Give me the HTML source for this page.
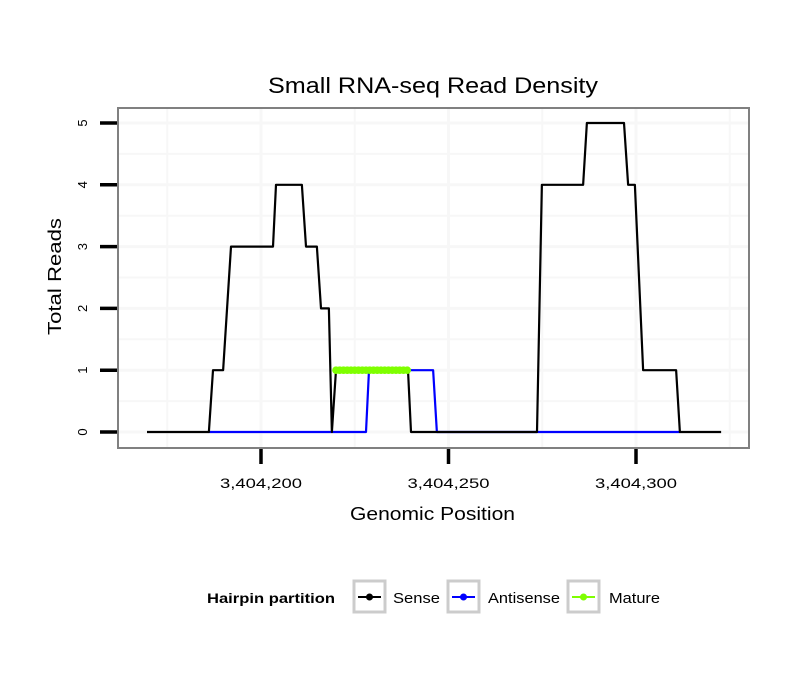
<!DOCTYPE html>
<html><head><meta charset="utf-8"><style>
body{margin:0;background:#fff;font-family:"Liberation Sans",sans-serif}
</style></head><body>
<svg id="chart" width="810" height="690" xmlns="http://www.w3.org/2000/svg" font-family="Liberation Sans, sans-serif">
<text x="268" y="93" font-size="22" textLength="330" lengthAdjust="spacingAndGlyphs">Small RNA-seq Read Density</text>
<g id="grid"></g>
<g id="series"></g>
<rect x="118" y="108" width="631" height="340" fill="none" stroke="#808080" stroke-width="2"/>
<g id="axes"></g>
<text x="350" y="520" font-size="18" textLength="165" lengthAdjust="spacingAndGlyphs">Genomic Position</text>
<text transform="translate(61,335) rotate(-90)" font-size="18" textLength="117" lengthAdjust="spacingAndGlyphs">Total Reads</text>
<g>
<text x="207" y="603" font-size="14" font-weight="bold" textLength="128" lengthAdjust="spacingAndGlyphs">Hairpin partition</text>
<g>
<rect x="354" y="581" width="31" height="31" fill="#fff" stroke="#ccc" stroke-width="3"/>
<line x1="358" y1="597" x2="381" y2="597" stroke="#000" stroke-width="2"/><circle cx="369.5" cy="597" r="3.5" fill="#000"/>
<text x="393" y="603" font-size="15" textLength="47" lengthAdjust="spacingAndGlyphs">Sense</text></g>
<g>
<rect x="448" y="581" width="31" height="31" fill="#fff" stroke="#ccc" stroke-width="3"/>
<line x1="452" y1="597" x2="475" y2="597" stroke="#00f" stroke-width="2"/><circle cx="463.5" cy="597" r="3.5" fill="#00f"/>
<text x="488" y="603" font-size="15" textLength="72" lengthAdjust="spacingAndGlyphs">Antisense</text></g>
<g>
<rect x="568" y="581" width="31" height="31" fill="#fff" stroke="#ccc" stroke-width="3"/>
<line x1="572" y1="597" x2="595" y2="597" stroke="#7fff00" stroke-width="2"/><circle cx="583.5" cy="597" r="3.5" fill="#7fff00"/>
<text x="609" y="603" font-size="15" textLength="51" lengthAdjust="spacingAndGlyphs">Mature</text></g>
</g>
</svg>
<script>
const senseX=[169.6,186.1,187.2,189.9,192.0,203.2,204.0,210.9,212.0,214.9,216.0,218.1,218.9,220.0,239.2,240.0,273.6,274.9,285.9,286.9,296.8,297.9,299.7,301.9,310.7,311.7,322.7];
const senseY=[0,0,1,1,3,3,4,4,3,3,2,2,0,1,1,0,0,4,4,5,5,4,4,1,1,0,0];
const antiX=[186.1,228.0,228.8,245.9,246.9,311.7];
const antiY=[0,0,1,1,0,0];
const matureX=[220,221,222,223,224,225,226,227,228,229,230,231,232,233,234,235,236,237,238,239];
const matureY=[1,1,1,1,1,1,1,1,1,1,1,1,1,1,1,1,1,1,1,1];
const xTicks=[200,250,300];
const xTickLabels=["3,404,200","3,404,250","3,404,300"];
const yTicks=[0,1,2,3,4,5];
const NS="http://www.w3.org/2000/svg";
const X=v=>261+(v-200)*3.75;
const Y=v=>432-v*61.8;
function mk(tag,attrs,parent){const e=document.createElementNS(NS,tag);for(const k in attrs)e.setAttribute(k,attrs[k]);parent.appendChild(e);return e;}
const grid=document.getElementById('grid'),series=document.getElementById('series'),axes=document.getElementById('axes');
for(let v=-0.5;v<=5.5;v+=0.5){const y=Y(v);if(y<109||y>447)continue;const l=mk('line',{x1:119,x2:748,y1:y,y2:y,stroke:'#f7f7f7','stroke-width':v%1===0?3:2},grid);

}
for(let v=175;v<=325;v+=25){const x=X(v);if(x<119||x>748)continue;const l=mk('line',{x1:x,x2:x,y1:109,y2:447,stroke:'#f7f7f7','stroke-width':v%50===0?3:2},grid);

}
function path(xs,ys,color,name){const d=xs.map((x,i)=>(i?'L':'M')+X(x)+','+Y(ys[i])).join(' ');const p=mk('path',{d:d,fill:'none',stroke:color,'stroke-width':2.2,'stroke-linejoin':'round'},series);

return p;}
path(antiX,antiY,'#0000ff','antisense-line');
path(senseX,senseY,'#000000','sense-line');
path(matureX,matureY,'#7fff00','mature-line').setAttribute('stroke-width','5');
matureX.forEach((x,i)=>{const c=mk('circle',{cx:X(x),cy:Y(matureY[i]),r:3.8,fill:'#7fff00'},series);

});
xTicks.forEach((v,i)=>{const l=mk('line',{x1:X(v),x2:X(v),y1:449,y2:464,stroke:'#000','stroke-width':3.5},axes);


const t=mk('text',{x:X(v)-41,y:488,'font-size':14,textLength:82,lengthAdjust:'spacingAndGlyphs'},axes);t.textContent=xTickLabels[i];

});
yTicks.forEach(v=>{const l=mk('line',{x1:100,x2:117,y1:Y(v),y2:Y(v),stroke:'#000','stroke-width':3.5},axes);


const t=mk('text',{transform:`translate(87,${Y(v)}) rotate(-90)`,'font-size':13,'text-anchor':'middle'},axes);t.textContent=v;

});
</script>
</body></html>
